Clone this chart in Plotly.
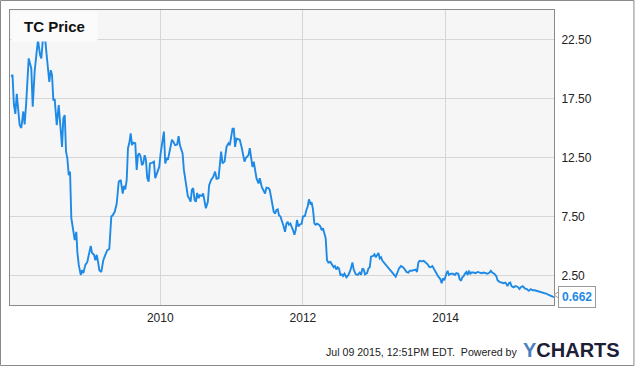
import plotly.graph_objects as go
from datetime import datetime

years = [
    2007.913, 2007.930, 2007.950, 2007.970, 2007.990, 2008.007, 2008.030, 2008.053, 2008.081, 2008.100,
    2008.120, 2008.157, 2008.193, 2008.213, 2008.240, 2008.269, 2008.287, 2008.315, 2008.333, 2008.361,
    2008.381, 2008.403, 2008.427, 2008.445, 2008.465, 2008.483, 2008.501, 2008.521, 2008.549, 2008.577,
    2008.599, 2008.623, 2008.641, 2008.661, 2008.679, 2008.697, 2008.717, 2008.735, 2008.753, 2008.781,
    2008.801, 2008.823, 2008.837, 2008.857, 2008.885, 2008.903, 2008.921, 2008.949, 2008.977, 2008.997,
    2009.025, 2009.043, 2009.071, 2009.089, 2009.109, 2009.127, 2009.145, 2009.173, 2009.201, 2009.229,
    2009.257, 2009.285, 2009.313, 2009.333, 2009.361, 2009.389, 2009.417, 2009.445, 2009.473, 2009.491,
    2009.509, 2009.529, 2009.547, 2009.565, 2009.585, 2009.603, 2009.621, 2009.649, 2009.669, 2009.687,
    2009.705, 2009.725, 2009.743, 2009.761, 2009.781, 2009.799, 2009.817, 2009.837, 2009.855, 2009.883,
    2009.911, 2009.929, 2009.957, 2009.985, 2010.005, 2010.033, 2010.051, 2010.069, 2010.089, 2010.107,
    2010.135, 2010.163, 2010.181, 2010.209, 2010.237, 2010.257, 2010.275, 2010.293, 2010.313, 2010.331,
    2010.349, 2010.369, 2010.387, 2010.405, 2010.425, 2010.443, 2010.461, 2010.481, 2010.499, 2010.517,
    2010.537, 2010.555, 2010.583, 2010.601, 2010.621, 2010.639, 2010.667, 2010.685, 2010.713, 2010.741,
    2010.769, 2010.789, 2010.817, 2010.835, 2010.853, 2010.873, 2010.901, 2010.929, 2010.957, 2010.975,
    2010.993, 2011.013, 2011.031, 2011.049, 2011.069, 2011.097, 2011.115, 2011.143, 2011.161, 2011.181,
    2011.199, 2011.217, 2011.237, 2011.255, 2011.273, 2011.293, 2011.311, 2011.329, 2011.349, 2011.377,
    2011.395, 2011.423, 2011.441, 2011.469, 2011.489, 2011.517, 2011.535, 2011.553, 2011.573, 2011.591,
    2011.609, 2011.629, 2011.647, 2011.665, 2011.685, 2011.713, 2011.731, 2011.749, 2011.769, 2011.787,
    2011.805, 2011.825, 2011.843, 2011.861, 2011.881, 2011.899, 2011.917, 2011.937, 2011.955, 2011.983,
    2012.001, 2012.029, 2012.049, 2012.067, 2012.085, 2012.105, 2012.123, 2012.141, 2012.161, 2012.179,
    2012.197, 2012.225, 2012.245, 2012.263, 2012.281, 2012.301, 2012.319, 2012.337, 2012.357, 2012.385,
    2012.413, 2012.431, 2012.449, 2012.469, 2012.487, 2012.505, 2012.525, 2012.543, 2012.561, 2012.581,
    2012.609, 2012.637, 2012.665, 2012.693, 2012.711, 2012.739, 2012.767, 2012.795, 2012.813, 2012.833,
    2012.851, 2012.869, 2012.897, 2012.917, 2012.935, 2012.953, 2012.981, 2013.001, 2013.019, 2013.037,
    2013.057, 2013.075, 2013.093, 2013.113, 2013.141, 2013.169, 2013.197, 2013.225, 2013.253, 2013.281,
    2013.299, 2013.317, 2013.345, 2013.373, 2013.401, 2013.429, 2013.449, 2013.477, 2013.495, 2013.523,
    2013.551, 2013.579, 2013.597, 2013.617, 2013.635, 2013.663, 2013.691, 2013.719, 2013.747, 2013.767,
    2013.785, 2013.813, 2013.841, 2013.869, 2013.897, 2013.925, 2013.943, 2013.961, 2013.981, 2014.009,
    2014.027, 2014.045, 2014.073, 2014.101, 2014.129, 2014.149, 2014.177, 2014.195, 2014.213, 2014.233,
    2014.251, 2014.269, 2014.289, 2014.307, 2014.325, 2014.345, 2014.363, 2014.391, 2014.419, 2014.447,
    2014.475, 2014.503, 2014.531, 2014.559, 2014.587, 2014.615, 2014.633, 2014.653, 2014.681, 2014.709,
    2014.727, 2014.755, 2014.783, 2014.811, 2014.839, 2014.867, 2014.885, 2014.905, 2014.923, 2014.951,
    2014.979, 2015.007, 2015.035, 2015.053, 2015.081, 2015.109, 2015.137, 2015.165, 2015.193, 2015.221,
    2015.249, 2015.277, 2015.305, 2015.333, 2015.361, 2015.389, 2015.417, 2015.445, 2015.473, 2015.501, 2015.519,
]

prices = [
    19.35, 19.5, 16.95, 16.2, 17.9, 16.95, 15.25, 15.0, 16.4, 15.3,
    16.95, 20.9, 20.05, 16.8, 19.8, 21.5, 22.45, 21.2, 20.9, 22.9,
    23.0, 21.5, 20.3, 18.9, 19.9, 19.5, 17.4, 17.4, 15.25, 16.95,
    15.25, 13.4, 15.8, 16.1, 13.0, 12.45, 11.0, 11.3, 7.35, 6.2,
    5.5, 6.2, 4.5, 3.4, 2.55, 2.95, 2.7, 3.4, 3.65, 4.25,
    5.0, 4.4, 4.25, 3.8, 4.25, 3.65, 2.95, 2.8, 3.8, 4.25,
    4.65, 4.75, 7.5, 7.6, 7.9, 8.6, 10.45, 10.6, 9.45, 10.1,
    9.8, 10.6, 13.3, 13.7, 14.55, 13.55, 13.75, 13.7, 11.45, 12.7,
    12.85, 12.55, 11.85, 12.0, 12.7, 12.3, 10.75, 10.45, 12.0, 12.05,
    12.15, 10.75, 11.15, 11.7, 12.85, 14.0, 14.7, 12.0, 12.45, 12.3,
    13.15, 14.0, 13.85, 13.55, 13.6, 14.3, 13.55, 13.15, 12.85, 11.45,
    10.75, 9.9, 9.2, 9.05, 8.75, 9.75, 9.9, 8.9, 8.75, 9.5,
    9.05, 9.3, 9.25, 9.45, 8.9, 8.2, 8.75, 10.15, 10.6, 10.85,
    11.3, 10.7, 10.75, 12.0, 13.0, 12.0, 12.15, 13.4, 13.7, 13.55,
    14.1, 14.95, 14.95, 13.4, 14.1, 14.05, 14.0, 13.3, 12.85, 12.15,
    12.45, 12.55, 12.7, 13.3, 12.3, 11.7, 12.15, 11.3, 10.75, 10.3,
    10.75, 10.0, 9.8, 9.45, 9.95, 9.9, 9.75, 9.05, 8.6, 7.9,
    7.75, 8.05, 8.1, 7.6, 7.5, 7.05, 6.65, 6.2, 6.9, 7.05,
    6.8, 6.9, 6.65, 6.35, 5.95, 6.35, 7.2, 6.65, 6.8, 6.9,
    7.5, 7.55, 8.05, 8.35, 8.95, 8.6, 8.7, 8.1, 6.9, 6.8,
    6.9, 6.8, 6.65, 6.35, 6.5, 5.95, 5.65, 3.8, 3.6, 3.65,
    3.4, 3.2, 3.3, 3.0, 3.2, 3.1, 2.55, 2.6, 2.45, 2.65,
    2.35, 2.55, 2.95, 3.6, 3.0, 2.6, 2.55, 2.75, 2.55, 3.1,
    3.0, 2.6, 2.7, 3.1, 3.2, 4.1, 4.15, 4.3, 4.05, 4.25,
    4.4, 3.95, 4.05, 3.75, 3.55, 3.4, 3.2, 2.95, 2.75, 2.55,
    2.4, 2.65, 3.1, 3.3, 3.2, 3.0, 2.8, 2.75, 2.9, 2.9,
    2.95, 3.0, 2.8, 3.6, 3.75, 3.7, 3.75, 3.6, 3.45, 3.25,
    3.2, 3.3, 3.0, 2.65, 2.4, 2.2, 1.85, 2.25, 2.1, 2.65,
    2.9, 2.55, 2.65, 2.65, 2.55, 2.7, 2.65, 2.2, 2.05, 2.35,
    2.45, 2.65, 2.8, 2.55, 2.9, 2.65, 2.75, 2.75, 2.7, 2.8,
    2.75, 2.7, 2.75, 2.7, 2.65, 2.75, 2.9, 2.75, 2.65, 2.45,
    2.1, 1.95, 1.9, 1.85, 1.9, 1.6, 1.85, 1.9, 1.6, 1.5,
    1.6, 1.55, 1.35, 1.5, 1.6, 1.4, 1.35, 1.2, 1.35, 1.25,
    1.25, 1.2, 1.2, 1.1, 1.05, 1.0, 0.95, 0.85, 0.75, 0.7, 0.662,
]

y_ticks = [2.5, 7.5, 12.5, 17.5, 22.5]
x_tick_years = [2010, 2012, 2014]
title_text = "TC Price"
last_label = "0.662"
footer_text = "Jul 09 2015, 12:51PM EDT.  Powered by"


def to_date(t):
    y = int(t)
    start = datetime(y, 1, 1)
    end = datetime(y + 1, 1, 1)
    return start + (end - start) * (t - y)


dates = [to_date(t) for t in years]
x_start = to_date(2007.895)
x_end = dates[-1]

LINE = "#1e8ae6"
FONT = "Arial, Liberation Sans, sans-serif"

fig = go.Figure()
fig.add_trace(go.Scatter(
    x=dates, y=prices, mode="lines",
    line=dict(color=LINE, width=1.9),
    hoverinfo="skip", showlegend=False,
))

fig.update_layout(
    width=635, height=366,
    margin=dict(l=10, r=80.5, t=10, b=61),
    paper_bgcolor="white",
    plot_bgcolor="#f6f6f6",
    font=dict(family=FONT, size=12, color="#222"),
    xaxis=dict(
        range=[x_start, x_end],
        tickvals=[datetime(y, 1, 1) for y in x_tick_years],
        ticktext=[str(y) for y in x_tick_years],
        showgrid=True, gridcolor="#d6d6d6", gridwidth=1,
        showline=True, linecolor="#8a8a8a", linewidth=1, mirror=True,
        ticks="", zeroline=False,
        ticklabelstandoff=2,
        tickfont=dict(size=12, color="#222"),
    ),
    yaxis=dict(
        range=[0, 25],
        side="right",
        tickvals=y_ticks,
        ticktext=[f"{v:.2f}" for v in y_ticks],
        showgrid=True, gridcolor="#d6d6d6", gridwidth=1,
        showline=True, linecolor="#8a8a8a", linewidth=1, mirror=True,
        ticks="", zeroline=False,
        ticklabelstandoff=4,
        tickfont=dict(size=12, color="#222"),
    ),
)

# title box inside plot
fig.add_annotation(
    xref="paper", yref="paper", x=0, y=1, xanchor="left", yanchor="top",
    text=f"<b>{title_text}</b>", showarrow=False,
    font=dict(family=FONT, size=15, color="#111"),
    bgcolor="#fbfbfb", width=83, height=27, align="center",
    xshift=0.5, yshift=-0.5,
)

# last value label
fig.add_annotation(
    xref="paper", yref="y", x=1, y=prices[-1], xanchor="left", yanchor="middle",
    text=f"<b>{last_label}</b>", showarrow=False,
    font=dict(family=FONT, size=12, color="#1e8ae6"),
    bgcolor="white", bordercolor="#999", borderwidth=1, borderpad=3,
    xshift=4,
)
# small pointer on label
fig.add_shape(
    type="path", xref="paper", yref="paper",
    path="M 1.0 0.0342 L 1.0094 0.0461 L 1.0094 0.0223 Z",
    line=dict(color="#999", width=1), fillcolor="white",
)

# outer border of the whole image
fig.add_shape(
    type="rect", xref="paper", yref="paper",
    x0=(0.5 - 10) / 544.5, x1=(634.5 - 10) / 544.5,
    y0=(305 - 365.5) / 295, y1=(305 - 0.5) / 295,
    line=dict(color="#8a8a8a", width=1), fillcolor="rgba(0,0,0,0)",
)

# footer
fig.add_annotation(
    xref="paper", yref="paper", x=(519 - 10) / 544.5, y=(305 - 352) / 295,
    xanchor="right", yanchor="middle", showarrow=False,
    text=footer_text, font=dict(family=FONT, size=10.6, color="#222"),
)
fig.add_annotation(
    xref="paper", yref="paper", x=(521 - 10) / 544.5, y=(305 - 350) / 295,
    xanchor="left", yanchor="middle", showarrow=False,
    text="<b><span style='color:#4b7fc3'>Y</span>CHARTS</b>",
    font=dict(family=FONT, size=20, color="#1b2036"),
)

fig.write_html(
    "out.html",
    config={"displayModeBar": False},
    post_script="document.body.style.margin='0';document.body.style.overflow='hidden';",
)
